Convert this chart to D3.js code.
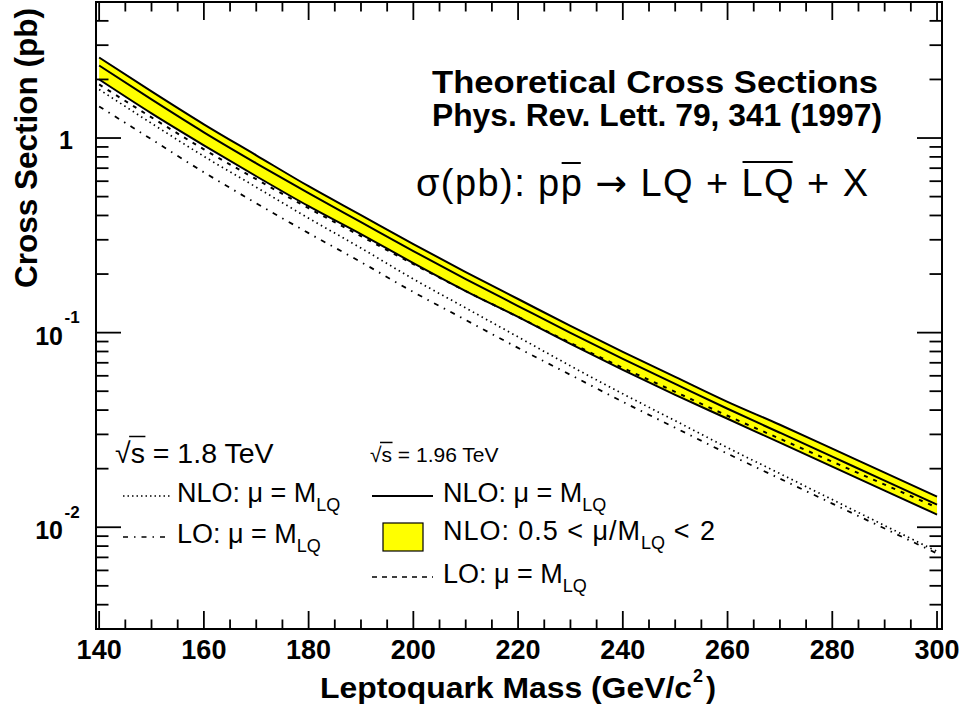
<!DOCTYPE html>
<html>
<head>
<meta charset="utf-8">
<script src="https://cdn.jsdelivr.net/npm/d3@7"></script>
<style>
  body { margin: 0; background: #fff; }
  svg { display: block; }
  text { font-family: "Liberation Sans", Arial, Helvetica, sans-serif; fill: #000; }
</style>
</head>
<body>
<div id="chart"></div>
<script>
// leptoquark mass (GeV/c^2)
const mass = [140, 150, 160, 170, 180, 190, 200, 210, 220, 230, 240, 250, 260, 270, 280, 290, 300]

// sqrt(s) = 1.96 TeV, NLO mu = M_LQ, and the scale band 0.5 < mu/M_LQ < 2 (pb)
const nlo196 = [2.359, 1.579, 1.070, 0.7418, 0.5205, 0.3695, 0.2624, 0.1886, 0.1370, 0.09966, 0.07331, 0.05455, 0.04062, 0.03060, 0.02305, 0.01736, 0.01308]
const nlo196Hi = [2.593, 1.736, 1.176, 0.8152, 0.5653, 0.4015, 0.2850, 0.2048, 0.1489, 0.1082, 0.07962, 0.05927, 0.04411, 0.03363, 0.02533, 0.01908, 0.01437]
const nlo196Lo = [2.000, 1.339, 0.9175, 0.6361, 0.4464, 0.3208, 0.2277, 0.1636, 0.1204, 0.08751, 0.06436, 0.04792, 0.03609, 0.02719, 0.02048, 0.01542, 0.01162]
// sqrt(s) = 1.96 TeV, LO
const lo196 = [1.885, 1.277, 0.8749, 0.6142, 0.4359, 0.3133, 0.2251, 0.1636, 0.1204, 0.08855, 0.06592, 0.04965, 0.03739, 0.02850, 0.02172, 0.01656, 0.01262]
// sqrt(s) = 1.8 TeV, NLO and LO
const nlo18 = [1.777, 1.190, 0.8056, 0.5589, 0.3874, 0.2719, 0.1886, 0.1339, 0.09504, 0.06747, 0.04849, 0.03526, 0.02563, 0.01886, 0.01387, 0.01020, 0.007508]
const lo18 = [1.454, 0.9848, 0.6669, 0.4625, 0.3245, 0.2305, 0.1617, 0.1162, 0.08347, 0.06068, 0.04411, 0.03245, 0.02387, 0.01777, 0.01323, 0.009847, 0.007331]

const xMajor = [140, 160, 180, 200, 220, 240, 260, 280, 300]
const yMajorLabels = [{v: 1, exp: null}, {v: 0.1, exp: '-1'}, {v: 0.01, exp: '-2'}]

const W = 963, H = 711
const frame = {left: 96, top: 2, right: 942, bottom: 629}

const x = d3.scaleLinear().domain([139.4, 300.95]).range([frame.left, frame.right])
const y = d3.scaleLog().domain([0.003, 5]).range([frame.bottom, frame.top])

const svg = d3.select('#chart').append('svg')
  .attr('width', W)
  .attr('height', H)

svg.append('rect').attr('width', W).attr('height', H).attr('fill', '#fff')

svg.append('defs').append('clipPath').attr('id', 'plotclip')
  .append('rect')
  .attr('x', frame.left).attr('y', frame.top)
  .attr('width', frame.right - frame.left)
  .attr('height', frame.bottom - frame.top)

const plot = svg.append('g').attr('clip-path', 'url(#plotclip)')

const rows = mass.map((m, i) => ({
  m: m, c: nlo196[i], hi: nlo196Hi[i], lo: nlo196Lo[i],
  lo196: lo196[i], nlo18: nlo18[i], lo18: lo18[i]
}))

// yellow scale band
const band = d3.area()
  .x(d => x(d.m))
  .y0(d => y(d.lo))
  .y1(d => y(d.hi))
  .curve(d3.curveMonotoneX)

plot.append('path').datum(rows)
  .attr('d', band)
  .attr('fill', '#ffff00')

const lineOf = key => d3.line()
  .x(d => x(d.m))
  .y(d => y(d[key]))
  .curve(d3.curveMonotoneX)

const curves = [
  {key: 'hi', dash: null, w: 2},
  {key: 'lo', dash: null, w: 2},
  {key: 'c', dash: null, w: 2},
  {key: 'lo196', dash: '4,6', w: 2},
  {key: 'nlo18', dash: '1.5,3.5', w: 1.7},
  {key: 'lo18', dash: '5,6,1.5,6', w: 1.8}
]

plot.selectAll('path.curve')
  .data(curves)
  .enter().append('path')
  .attr('class', 'curve')
  .attr('d', c => lineOf(c.key)(rows))
  .attr('fill', 'none')
  .attr('stroke', '#000')
  .attr('stroke-width', c => c.w)
  .attr('stroke-dasharray', c => c.dash)

// frame
svg.append('rect')
  .attr('x', frame.left).attr('y', frame.top)
  .attr('width', frame.right - frame.left)
  .attr('height', frame.bottom - frame.top)
  .attr('fill', 'none')
  .attr('stroke', '#000')
  .attr('stroke-width', 2)

// x ticks, bottom and top
const xTicks = d3.range(140, 301, 5)
const tickG = svg.append('g').attr('stroke', '#000').attr('stroke-width', 1.8)

xTicks.forEach(v => {
  const len = xMajor.includes(v) ? 18 : 9.5
  tickG.append('line')
    .attr('x1', x(v)).attr('x2', x(v))
    .attr('y1', frame.bottom).attr('y2', frame.bottom - len)
  tickG.append('line')
    .attr('x1', x(v)).attr('x2', x(v))
    .attr('y1', frame.top).attr('y2', frame.top + len)
})

// y ticks, left and right
y.ticks().forEach(t => {
  const yy = y(t)
  if (yy < frame.top - 0.5 || yy > frame.bottom) return
  const major = Math.abs(Math.log10(t) - Math.round(Math.log10(t))) < 1e-6
  const len = major ? 25 : 12.5
  tickG.append('line')
    .attr('x1', frame.left).attr('x2', frame.left + len)
    .attr('y1', yy).attr('y2', yy)
  tickG.append('line')
    .attr('x1', frame.right).attr('x2', frame.right - len)
    .attr('y1', yy).attr('y2', yy)
})

// x tick labels
svg.selectAll('text.xlab')
  .data(xMajor)
  .enter().append('text')
  .attr('class', 'xlab')
  .attr('x', d => x(d))
  .attr('y', 659)
  .attr('text-anchor', 'middle')
  .attr('font-weight', 'bold')
  .attr('font-size', 27)
  .text(d => d)

// y tick labels
yMajorLabels.forEach(d => {
  const yy = y(d.v)
  if (d.exp === null) {
    svg.append('text')
      .attr('x', 73).attr('y', yy + 11)
      .attr('text-anchor', 'end')
      .attr('font-weight', 'bold').attr('font-size', 25)
      .text('1')
  } else {
    svg.append('text')
      .attr('x', 63).attr('y', yy + 12)
      .attr('text-anchor', 'end')
      .attr('font-weight', 'bold').attr('font-size', 25)
      .text('10')
    svg.append('text')
      .attr('x', 64.5).attr('y', yy - 9.5)
      .attr('font-weight', 'bold').attr('font-size', 17)
      .text(d.exp)
  }
})

// axis titles
svg.append('text')
  .attr('x', 320).attr('y', 698)
  .attr('font-weight', 'bold').attr('font-size', 30)
  .attr('textLength', 372).attr('lengthAdjust', 'spacingAndGlyphs')
  .text('Leptoquark Mass (GeV/c')
svg.append('text')
  .attr('x', 693).attr('y', 682)
  .attr('font-weight', 'bold').attr('font-size', 18)
  .text('2')
svg.append('text')
  .attr('x', 706).attr('y', 698)
  .attr('font-weight', 'bold').attr('font-size', 30)
  .text(')')

svg.append('text')
  .attr('transform', 'translate(37,8) rotate(-90)')
  .attr('text-anchor', 'end')
  .attr('font-weight', 'bold').attr('font-size', 32)
  .attr('textLength', 280).attr('lengthAdjust', 'spacingAndGlyphs')
  .text('Cross Section (pb)')

// header texts
svg.append('text')
  .attr('x', 432).attr('y', 93)
  .attr('font-weight', 'bold').attr('font-size', 31)
  .attr('textLength', 446).attr('lengthAdjust', 'spacingAndGlyphs')
  .text('Theoretical Cross Sections')
svg.append('text')
  .attr('x', 432).attr('y', 126)
  .attr('font-weight', 'bold').attr('font-size', 31)
  .attr('textLength', 450).attr('lengthAdjust', 'spacingAndGlyphs')
  .text('Phys. Rev. Lett. 79, 341 (1997)')

function overline(textSel, from, to, yLine, w) {
  const node = textSel.node()
  const a = node.getExtentOfChar(from)
  const b = node.getExtentOfChar(to)
  svg.append('line')
    .attr('x1', a.x + 1).attr('x2', b.x + b.width - 1)
    .attr('y1', yLine).attr('y2', yLine)
    .attr('stroke', '#000').attr('stroke-width', w)
}

const proc = svg.append('text')
  .attr('x', 416).attr('y', 196)
  .attr('font-size', 38)
  .attr('textLength', 452).attr('lengthAdjust', 'spacing')
proc.append('tspan').text('σ(pb): pp ')
proc.append('tspan').style('font-family', '"DejaVu Sans"').text('→')
proc.append('tspan').text(' LQ + LQ + X')
const procText = 'σ(pb): pp → LQ + LQ + X'
overline(proc, procText.lastIndexOf('p'), procText.lastIndexOf('p'), 163, 2)
overline(proc, procText.lastIndexOf('LQ'), procText.lastIndexOf('LQ') + 1, 162, 2)

// legend helpers
function sqrtHeader(xx, yy, fs, rest) {
  const t = svg.append('text')
    .attr('x', xx).attr('y', yy)
    .attr('font-size', fs)
    .text('√s' + rest)
  const node = t.node()
  const a = node.getExtentOfChar(0)
  const b = node.getExtentOfChar(1)
  svg.append('line')
    .attr('x1', a.x + a.width - 1.5).attr('x2', b.x + b.width + 0.5)
    .attr('y1', yy - 0.93 * fs).attr('y2', yy - 0.93 * fs)
    .attr('stroke', '#000').attr('stroke-width', 1.5)
}

function subLabel(xx, yy, before, after, beforeLen, afterLen) {
  const t = svg.append('text')
    .attr('x', xx).attr('y', yy)
    .attr('font-size', 27)
  const b = t.append('tspan').text(before)
  if (beforeLen) b.attr('textLength', beforeLen).attr('lengthAdjust', 'spacing')
  t.append('tspan').attr('dy', 9).attr('font-size', 18).text('LQ')
  if (after) {
    const a = t.append('tspan').attr('dy', -9).attr('font-size', 27).text(after)
    if (afterLen) a.attr('textLength', afterLen).attr('lengthAdjust', 'spacing')
  }
}

// sqrt(s) = 1.8 TeV block
sqrtHeader(115, 463, 28.5, ' = 1.8 TeV')
svg.append('line')
  .attr('x1', 123).attr('x2', 170).attr('y1', 496).attr('y2', 496)
  .attr('stroke', '#000').attr('stroke-width', 1.5).attr('stroke-dasharray', '1.5,3')
subLabel(177, 502, 'NLO: μ = M')
svg.append('line')
  .attr('x1', 123).attr('x2', 170).attr('y1', 537).attr('y2', 537)
  .attr('stroke', '#000').attr('stroke-width', 1.6).attr('stroke-dasharray', '5,6,1.5,6')
subLabel(177, 543, 'LO: μ = M')

// sqrt(s) = 1.96 TeV block
sqrtHeader(370, 462, 21, ' = 1.96 TeV')
svg.append('line')
  .attr('x1', 372).attr('x2', 433).attr('y1', 496).attr('y2', 496)
  .attr('stroke', '#000').attr('stroke-width', 1.8)
subLabel(443, 502, 'NLO: μ = M')
svg.append('rect')
  .attr('x', 383).attr('y', 523).attr('width', 40).attr('height', 28)
  .attr('fill', '#ffff00').attr('stroke', '#000').attr('stroke-width', 1.2)
subLabel(443, 540, 'NLO: 0.5 < μ/M', ' < 2', 197, 50)
svg.append('line')
  .attr('x1', 372).attr('x2', 433).attr('y1', 577).attr('y2', 577)
  .attr('stroke', '#000').attr('stroke-width', 1.6).attr('stroke-dasharray', '5,5')
subLabel(443, 583, 'LO: μ = M')
</script>
</body>
</html>
